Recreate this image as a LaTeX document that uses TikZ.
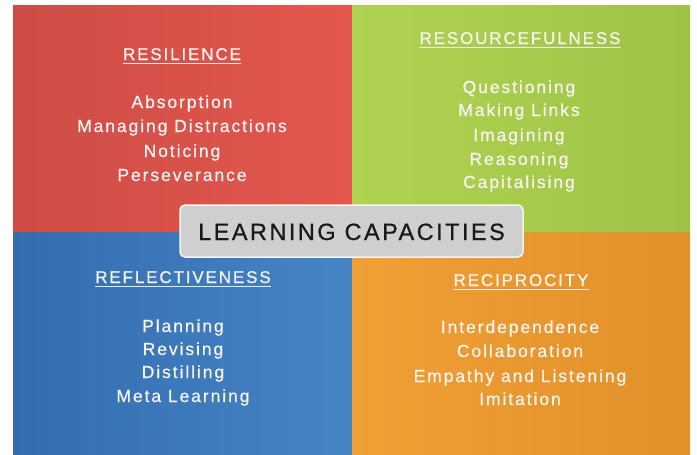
\documentclass[tikz,border=0pt]{standalone}
\usepackage{fontspec}
\newfontfamily\itemfont[LetterSpace=11,FakeBold=0.6]{Liberation Sans}
\newfontfamily\titlefont[LetterSpace=10.5,FakeBold=0.7]{Liberation Sans}
\definecolor{redD}{HTML}{CD4D46}
\definecolor{redL}{HTML}{E4574E}
\definecolor{grnL}{HTML}{B0D252}
\definecolor{grnD}{HTML}{9EC445}
\definecolor{bluD}{HTML}{346DAF}
\definecolor{bluL}{HTML}{4585C6}
\definecolor{orgL}{HTML}{F0A035}
\definecolor{orgD}{HTML}{E2902A}
\definecolor{boxfill}{HTML}{CFCFCF}
\definecolor{uline}{HTML}{F2E6E4}
\definecolor{txtw}{HTML}{F8F4F2}
\tikzset{
  heading/.style={anchor=base, inner sep=0pt, text=txtw, font=\itemfont\fontsize{17}{20}\selectfont},
  itemtxt/.style={anchor=base, inner sep=0pt, text=txtw, font=\itemfont\fontsize{17.5}{21}\selectfont},
  ul/.style={draw=uline, line width=1pt},
  titlebox/.style={draw=white!92!gray, line width=1.5pt, fill=boxfill, rounded corners=5pt},
}
\begin{document}
\begin{tikzpicture}[x=1pt,y=-1pt]
\useasboundingbox (0,0) rectangle (697,455);
\fill[white] (0,0) rectangle (697,455);
% quadrants
\shade[left color=redD, right color=redL] (13,5) rectangle (352,232);
\shade[left color=grnL, right color=grnD] (352,5) rectangle (690,232);
\shade[left color=bluD, right color=bluL] (13,232) rectangle (352,454);
\shade[left color=orgL, right color=orgD] (352,232) rectangle (690,454);
% headings
\node[heading] (h1) at (182,60) {RESILIENCE};
\node[heading] (h2) at (520,44) {RESOURCEFULNESS};
\node[heading] (h3) at (183,283) {REFLECTIVENESS};
\node[heading] (h4) at (521,286) {RECIPROCITY};
\foreach \h in {h1,h2,h3,h4}{
  \draw[ul] ([yshift=-3.5pt]\h.base west) -- ([yshift=-3.5pt]\h.base east);
}
% resilience
\node[itemtxt] (a1) at (182,108) {Absorption};
\node[itemtxt] (a2) at (182,132) {Managing Distractions};
\node[itemtxt] (a3) at (182,157) {Noticing};
\node[itemtxt] (a4) at (182,181) {Perseverance};
% resourcefulness
\node[itemtxt] (b1) at (519,93) {Questioning};
\node[itemtxt] (b2) at (519,116) {Making Links};
\node[itemtxt] (b3) at (519,141) {Imagining};
\node[itemtxt] (b4) at (519,165) {Reasoning};
\node[itemtxt] (b5) at (519,188) {Capitalising};
% reflectiveness
\node[itemtxt] (c1) at (183,332) {Planning};
\node[itemtxt] (c2) at (183,355) {Revising};
\node[itemtxt] (c3) at (183,378) {Distilling};
\node[itemtxt] (c4) at (183,402) {Meta Learning};
% reciprocity
\node[itemtxt] (d1) at (520,333) {Interdependence};
\node[itemtxt] (d2) at (520,357) {Collaboration};
\node[itemtxt] (d3) at (520,382) {Empathy and Listening};
\node[itemtxt] (d4) at (520,405) {Imitation};
% centre box
\draw[titlebox] (180,205) rectangle (523,257);
\node[anchor=base, inner sep=0pt, text=black!90, font=\titlefont\fontsize{23.5}{28}\selectfont] (title) at (351.5,240) {LEARNING CAPACITIES};
\end{tikzpicture}
\end{document}
